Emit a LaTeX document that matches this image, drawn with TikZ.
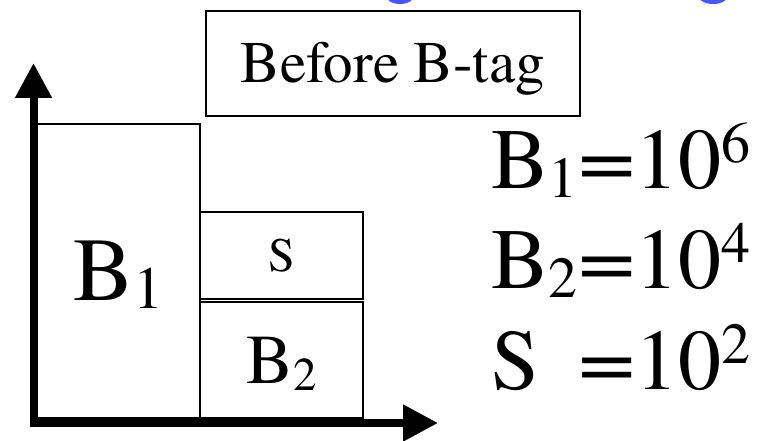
\documentclass[tikz,border=0pt]{standalone}
\usepackage{fontspec}
\usepackage{graphicx}
\setmainfont{texgyretermes}[Extension=.otf, UprightFont=*-regular, BoldFont=*-bold, ItalicFont=*-italic, BoldItalicFont=*-bolditalic]
\usetikzlibrary{arrows.meta}
\definecolor{titleblue}{RGB}{72,84,255}
\newcommand\rsub[1]{\raisebox{-9pt}{\fontsize{58}{58}\selectfont #1}}
\newcommand\rsup[1]{\raisebox{26pt}{\fontsize{58}{58}\selectfont #1}}
\newcommand\weq{\scalebox{1.18}[1]{=}}
\begin{document}
\begin{tikzpicture}[x=1pt,y=-1pt,
  bar/.style={draw, line width=1.5pt, inner sep=0pt, outer sep=0pt, text depth=0pt, anchor=north west},
  axisline/.style={line width=8pt, line join=miter,
    {Triangle[length=35pt,width=35pt]}-{Triangle[length=35pt,width=35pt]}},
  eqrow/.style={anchor=base west, inner sep=0pt, font=\fontsize{86}{86}\selectfont}
]
\useasboundingbox (0,0) rectangle (760,441);
% partial blue title glyphs cut at the top edge
\begin{scope}
  \clip (0,0) rectangle (760,441);
  \fill[titleblue] (400,-6) ellipse [x radius=15, y radius=10];
  \fill[titleblue] (713,-6) ellipse [x radius=16, y radius=10];
\end{scope}
% title box
\node[draw, line width=2pt, inner sep=0pt, minimum width=374pt, minimum height=105pt,
      text height=39pt, text depth=0pt, font=\fontsize{59}{59}\selectfont]
  (title) at (393,63.5) {Before B-tag};
% bars
\node[bar, minimum width=163pt, minimum height=294pt, text height=59.6pt,
      font=\fontsize{90}{90}\selectfont] (b1) at (37,124)
  {B\raisebox{-8pt}{\fontsize{60}{60}\selectfont 1}};
\node[bar, minimum width=163pt, minimum height=87pt, text height=31.5pt,
      font=\fontsize{48}{48}\selectfont] (s) at (200,212) {S};
\node[bar, minimum width=163pt, minimum height=116pt, text height=46.3pt,
      font=\fontsize{70}{70}\selectfont] (b2) at (200,302)
  {B\raisebox{-7pt}{\fontsize{47}{47}\selectfont 2}};
% axes
\coordinate (ytip) at (33.5,63);
\coordinate (origin) at (33.5,423);
\coordinate (xtip) at (438,423);
\draw[axisline] (ytip) -- (origin) -- (xtip);
% values
\node[eqrow] (r1) at (491,188) {\makebox[87pt][l]{B\rsub{1}}\weq10\rsup{6}};
\node[eqrow] (r2) at (491,288) {\makebox[87pt][l]{B\rsub{2}}\weq10\rsup{4}};
\node[eqrow] (r3) at (491,389) {\makebox[87pt][l]{S}\weq10\rsup{2}};
\end{tikzpicture}
\end{document}
